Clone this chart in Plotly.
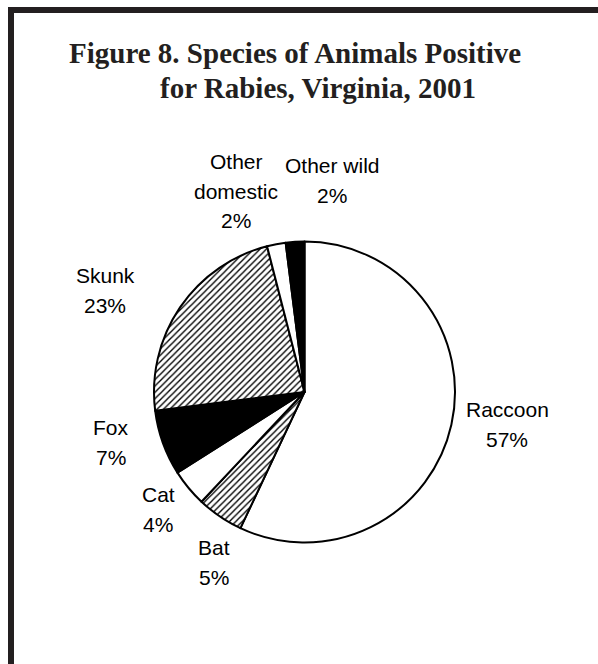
import plotly.graph_objects as go

# ---- data ----
categories = ["Raccoon", "Bat", "Cat", "Fox", "Skunk", "Other domestic", "Other wild"]
values = [57, 5, 4, 7, 23, 2, 2]
label_lines = {"Other domestic": ["Other", "domestic"]}
title_lines = ["Figure 8. Species of Animals Positive", "for Rabies, Virginia, 2001"]

# ---- styles ----
fills = ["white", "white", "white", "black", "white", "white", "black"]
hatch = ["", "/", "", "", "/", "", ""]

W, H = 598, 664
cx, cy, r = 304.5, 392.0, 150.5

# label placement (pixel centre x, first baseline y) and line spacing
label_pos = {
    "Raccoon": (507, 417),
    "Bat": (214, 555),
    "Cat": (158, 502),
    "Fox": (111, 435),
    "Skunk": (105, 283),
    "Other domestic": (236, 169),
    "Other wild": (332, 173),
}
line_gap = 29.5
lab_size = 21


def px(x, y):
    return x / W, 1 - y / H


fig = go.Figure()
fig.add_trace(go.Pie(
    labels=categories,
    values=values,
    sort=False,
    direction="clockwise",
    rotation=0,
    textinfo="none",
    hoverinfo="label+percent",
    showlegend=False,
    marker=dict(
        colors=fills,
        line=dict(color="black", width=2),
        pattern=dict(shape=hatch, fgcolor="black", bgcolor="white", size=4.5, solidity=0.3),
    ),
    domain=dict(x=[(cx - r) / W, (cx + r) / W], y=[1 - (cy + r) / H, 1 - (cy - r) / H]),
))

total = sum(values)
annotations = []
for cat, v in zip(categories, values):
    lines = label_lines.get(cat, [cat]) + [f"{v / total * 100:.0f}%"]
    x0, y0 = label_pos[cat]
    for i, t in enumerate(lines):
        xx, yy = px(x0, y0 + i * line_gap - 0.35 * lab_size)
        annotations.append(dict(
            text=t, x=xx, y=yy, xref="paper", yref="paper",
            xanchor="center", yanchor="middle", showarrow=False,
            font=dict(family="Liberation Sans, Arial", size=lab_size, color="black"),
        ))

title_pos = [(295, 63), (318, 98)]
tsize = 29
for t, (x0, y0) in zip(title_lines, title_pos):
    xx, yy = px(x0, y0 - 0.35 * tsize)
    annotations.append(dict(
        text=f"<b>{t}</b>", x=xx, y=yy, xref="paper", yref="paper",
        xanchor="center", yanchor="middle", showarrow=False,
        font=dict(family="Liberation Serif, Times New Roman", size=tsize, color="#231f20"),
    ))

border = "#231f20"
shapes = [
    dict(type="rect", xref="paper", yref="paper", x0=8 / W, x1=14 / W, y0=0, y1=1 - 7 / H,
         fillcolor=border, line=dict(width=0)),
    dict(type="rect", xref="paper", yref="paper", x0=8 / W, x1=1, y0=1 - 13 / H, y1=1 - 7 / H,
         fillcolor=border, line=dict(width=0)),
]

fig.update_layout(
    width=W, height=H,
    margin=dict(l=0, r=0, t=0, b=0),
    paper_bgcolor="white", plot_bgcolor="white",
    annotations=annotations,
    shapes=shapes,
)

fig.write_html(
    "out.html",
    config={"displayModeBar": False},
    post_script="document.body.style.margin='0';document.body.style.overflow='hidden';",
)
